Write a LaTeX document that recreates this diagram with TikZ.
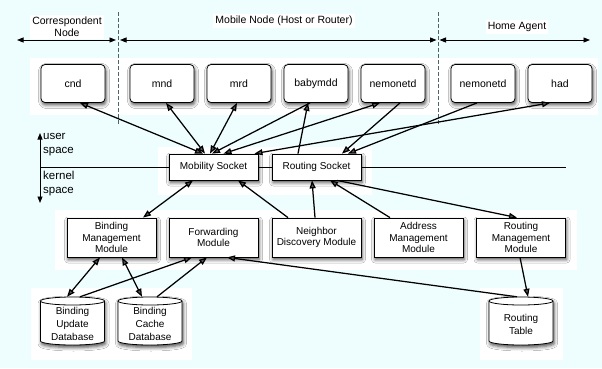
\documentclass[tikz,border=0pt]{standalone}
\usepackage{fontspec}
\setmainfont{Liberation Sans}
\usetikzlibrary{arrows.meta,shadows.blur}
\definecolor{bgc}{RGB}{238,254,255}
\definecolor{dashc}{RGB}{80,100,100}
\newcommand\dbcyl[1]{%
  \path[draw,line width=0.8pt,fill=white,shd] (#1-32,67) -- (#1-32,27)
    arc[start angle=180,end angle=360,x radius=32,y radius=4] -- (#1+32,67)
    arc[start angle=0,end angle=180,x radius=32,y radius=4] -- cycle;
  \draw[line width=0.8pt] (#1-32,67) arc[start angle=180,end angle=360,x radius=32,y radius=4];}
\begin{document}
\begin{tikzpicture}[x=1pt,y=1pt,
  shd/.style={blur shadow={shadow xshift=1pt,shadow yshift=-2.5pt,shadow blur radius=3.5pt,shadow opacity=70}},
  daemon/.style={draw,line width=0.8pt,rounded corners=4pt,fill=white,minimum width=64pt,minimum height=38pt,inner sep=0pt,font=\fontsize{10.5}{12}\selectfont,shd},
  sock/.style={draw,line width=0.8pt,fill=white,minimum width=89pt,minimum height=26pt,inner sep=0pt,font=\fontsize{10}{12}\selectfont,shd},
  module/.style={draw,line width=0.8pt,fill=white,minimum width=89pt,minimum height=39pt,inner sep=0pt,align=center,font=\fontsize{10}{11.5}\selectfont,shd},
  dbbox/.style={minimum width=64pt,minimum height=54pt,inner sep=0pt,align=center,font=\fontsize{10}{13}\selectfont},
  hdr/.style={fill=white,inner sep=2pt,align=center,font=\fontsize{10.5}{12}\selectfont},
  spc/.style={anchor=west,align=left,inner sep=0pt,font=\fontsize{11.5}{14}\selectfont},
  conn/.style={line width=1.25pt},
  one/.style={conn,-{Triangle[length=8pt,width=6pt]}},
  two/.style={conn,{Triangle[length=8pt,width=6pt]}-{Triangle[length=8pt,width=6pt]}},
  hdrarrow/.style={line width=0.9pt,{Triangle[length=6.5pt,width=5pt]}-{Triangle[length=6.5pt,width=5pt]}},
  dashln/.style={dashc,line width=1pt,dash pattern=on 3.5pt off 2.5pt}
]
\useasboundingbox (0,0) rectangle (602,368);
\fill[bgc] (0,0) rectangle (602,368);
% white patches
\fill[white] (30,253) rectangle (598,310);
\fill[white] (158,173) rectangle (372,221);
\fill[white] (55,98) rectangle (577,158);
\fill[white] (31,8) rectangle (192,80);
\fill[white] (480,8) rectangle (563,80);

% header
\coordinate (d1t) at (118,356); \coordinate (d1b) at (118,243);
\coordinate (d2t) at (438,356); \coordinate (d2b) at (438,243);
\draw[dashln] (d1t) -- (d1b);
\draw[dashln] (d2t) -- (d2b);
\coordinate (a1l) at (17,328); \coordinate (a1r) at (116,328);
\coordinate (a2l) at (120,328); \coordinate (a2r) at (436.5,328);
\coordinate (a3l) at (439.5,328); \coordinate (a3r) at (590,328);
\draw[hdrarrow] (a1l) -- (a1r);
\draw[hdrarrow] (a2l) -- (a2r);
\draw[hdrarrow] (a3l) -- (a3r);
\node[hdr] (hcn) at (67,341) {Correspondent\\Node};
\node[hdr] (hmn) at (284,347) {Mobile Node (Host or Router)};
\node[hdr] (hha) at (517,341) {Home Agent};

% user / kernel
\coordinate (uk1) at (40,235); \coordinate (uk2) at (40,165);
\draw[line width=0.9pt,{Triangle[length=6.5pt,width=5pt]}-{Triangle[length=6.5pt,width=5pt]}] (uk1) -- (uk2);
\coordinate (hl1) at (40,201); \coordinate (hl2) at (566,201);
\draw[line width=0.8pt] (hl1) -- (hl2);
\node[spc] (us) at (43,223) {user\\space};
\node[spc] (ks) at (43,184) {kernel\\space};

% daemons
\node[daemon] (cnd) at (73,284.5) {cnd};
\node[daemon] (mnd) at (162,284.5) {mnd};
\node[daemon] (mrd) at (239,284.5) {mrd};
\node[daemon] (baby) at (316,284.5) {babymdd};
\node[daemon] (nemo1) at (393,284.5) {nemonetd};
\node[daemon] (nemo2) at (483,284.5) {nemonetd};
\node[daemon] (had) at (560,284.5) {had};

% sockets
\node[sock] (mob) at (213.5,201) {Mobility Socket};
\node[sock] (rs) at (316.5,201) {Routing Socket};

% modules
\node[module] (bmm) at (111.5,130.5) {Binding\\Management\\Module};
\node[module] (fwd) at (213.5,130.5) {Forwarding\\Module};
\node[module] (nd) at (316.5,130.5) {Neighbor\\Discovery Module};
\node[module] (amm) at (418.5,130.5) {Address\\Management\\Module};
\node[module] (rmm) at (521,130.5) {Routing\\Management\\Module};

% databases
\dbcyl{72.5}
\dbcyl{150}
\dbcyl{521}
\node[dbbox] (bud) at (72.5,44) {Binding\\Update\\Database};
\node[dbbox] (bcd) at (150,44) {Binding\\Cache\\Database};
\node[dbbox] (rt) at (521,44) {Routing\\Table};

% top connectors
\draw[two] ([xshift=7pt]cnd.south) -- ([xshift=-10.5pt]mob.north);
\draw[two] ([xshift=4pt]mnd.south) -- ([xshift=-8.5pt]mob.north);
\draw[two] ([xshift=-2pt]mrd.south) -- ([xshift=-3.5pt]mob.north);
\draw[one] ([xshift=-6pt]baby.south) -- ([xshift=-1.5pt]mob.north);
\draw[two] ([xshift=-13pt]nemo1.south) -- ([xshift=10pt]mob.north);
\draw[two] ([xshift=-10pt]had.south) -- ([xshift=41pt]mob.north);
\draw[one] ([xshift=-18.5pt]rs.north) -- ([xshift=-8pt]baby.south);
\draw[one] ([xshift=7pt]nemo1.south) -- ([xshift=25.5pt]rs.north);
\draw[one] ([xshift=-6pt]nemo2.south) -- ([xshift=31.5pt]rs.north);

% middle connectors
\draw[two] ([xshift=31.5pt]bmm.north) -- ([xshift=-20.5pt]mob.south);
\draw[one] ([xshift=-28.5pt]nd.north) -- ([xshift=24.5pt]mob.south);
\draw[one] ([xshift=-1.5pt]nd.north) -- ([xshift=-4.5pt]rs.south);
\draw[one] ([xshift=-28.5pt]amm.north) -- ([xshift=13.5pt]rs.south);
\draw[one] ([xshift=20.5pt]rs.south) -- ([xshift=-4pt]rmm.north);

% bottom connectors
\draw[two] ([xshift=-11.5pt]bmm.south) -- ([xshift=-5.5pt]bud.north);
\draw[two] ([xshift=10.5pt]bmm.south) -- ([xshift=-8pt]bcd.north);
\draw[one] ([xshift=7.5pt]bud.north) -- ([xshift=-21.5pt]fwd.south);
\draw[one] ([xshift=7pt]bcd.north) -- ([xshift=-6.5pt]fwd.south);
\draw[one] ([xshift=-4pt]rt.north) -- ([xshift=13.5pt]fwd.south);
\draw[one] ([xshift=-1pt]rmm.south) -- ([xshift=7pt]rt.north);
\end{tikzpicture}
\end{document}
